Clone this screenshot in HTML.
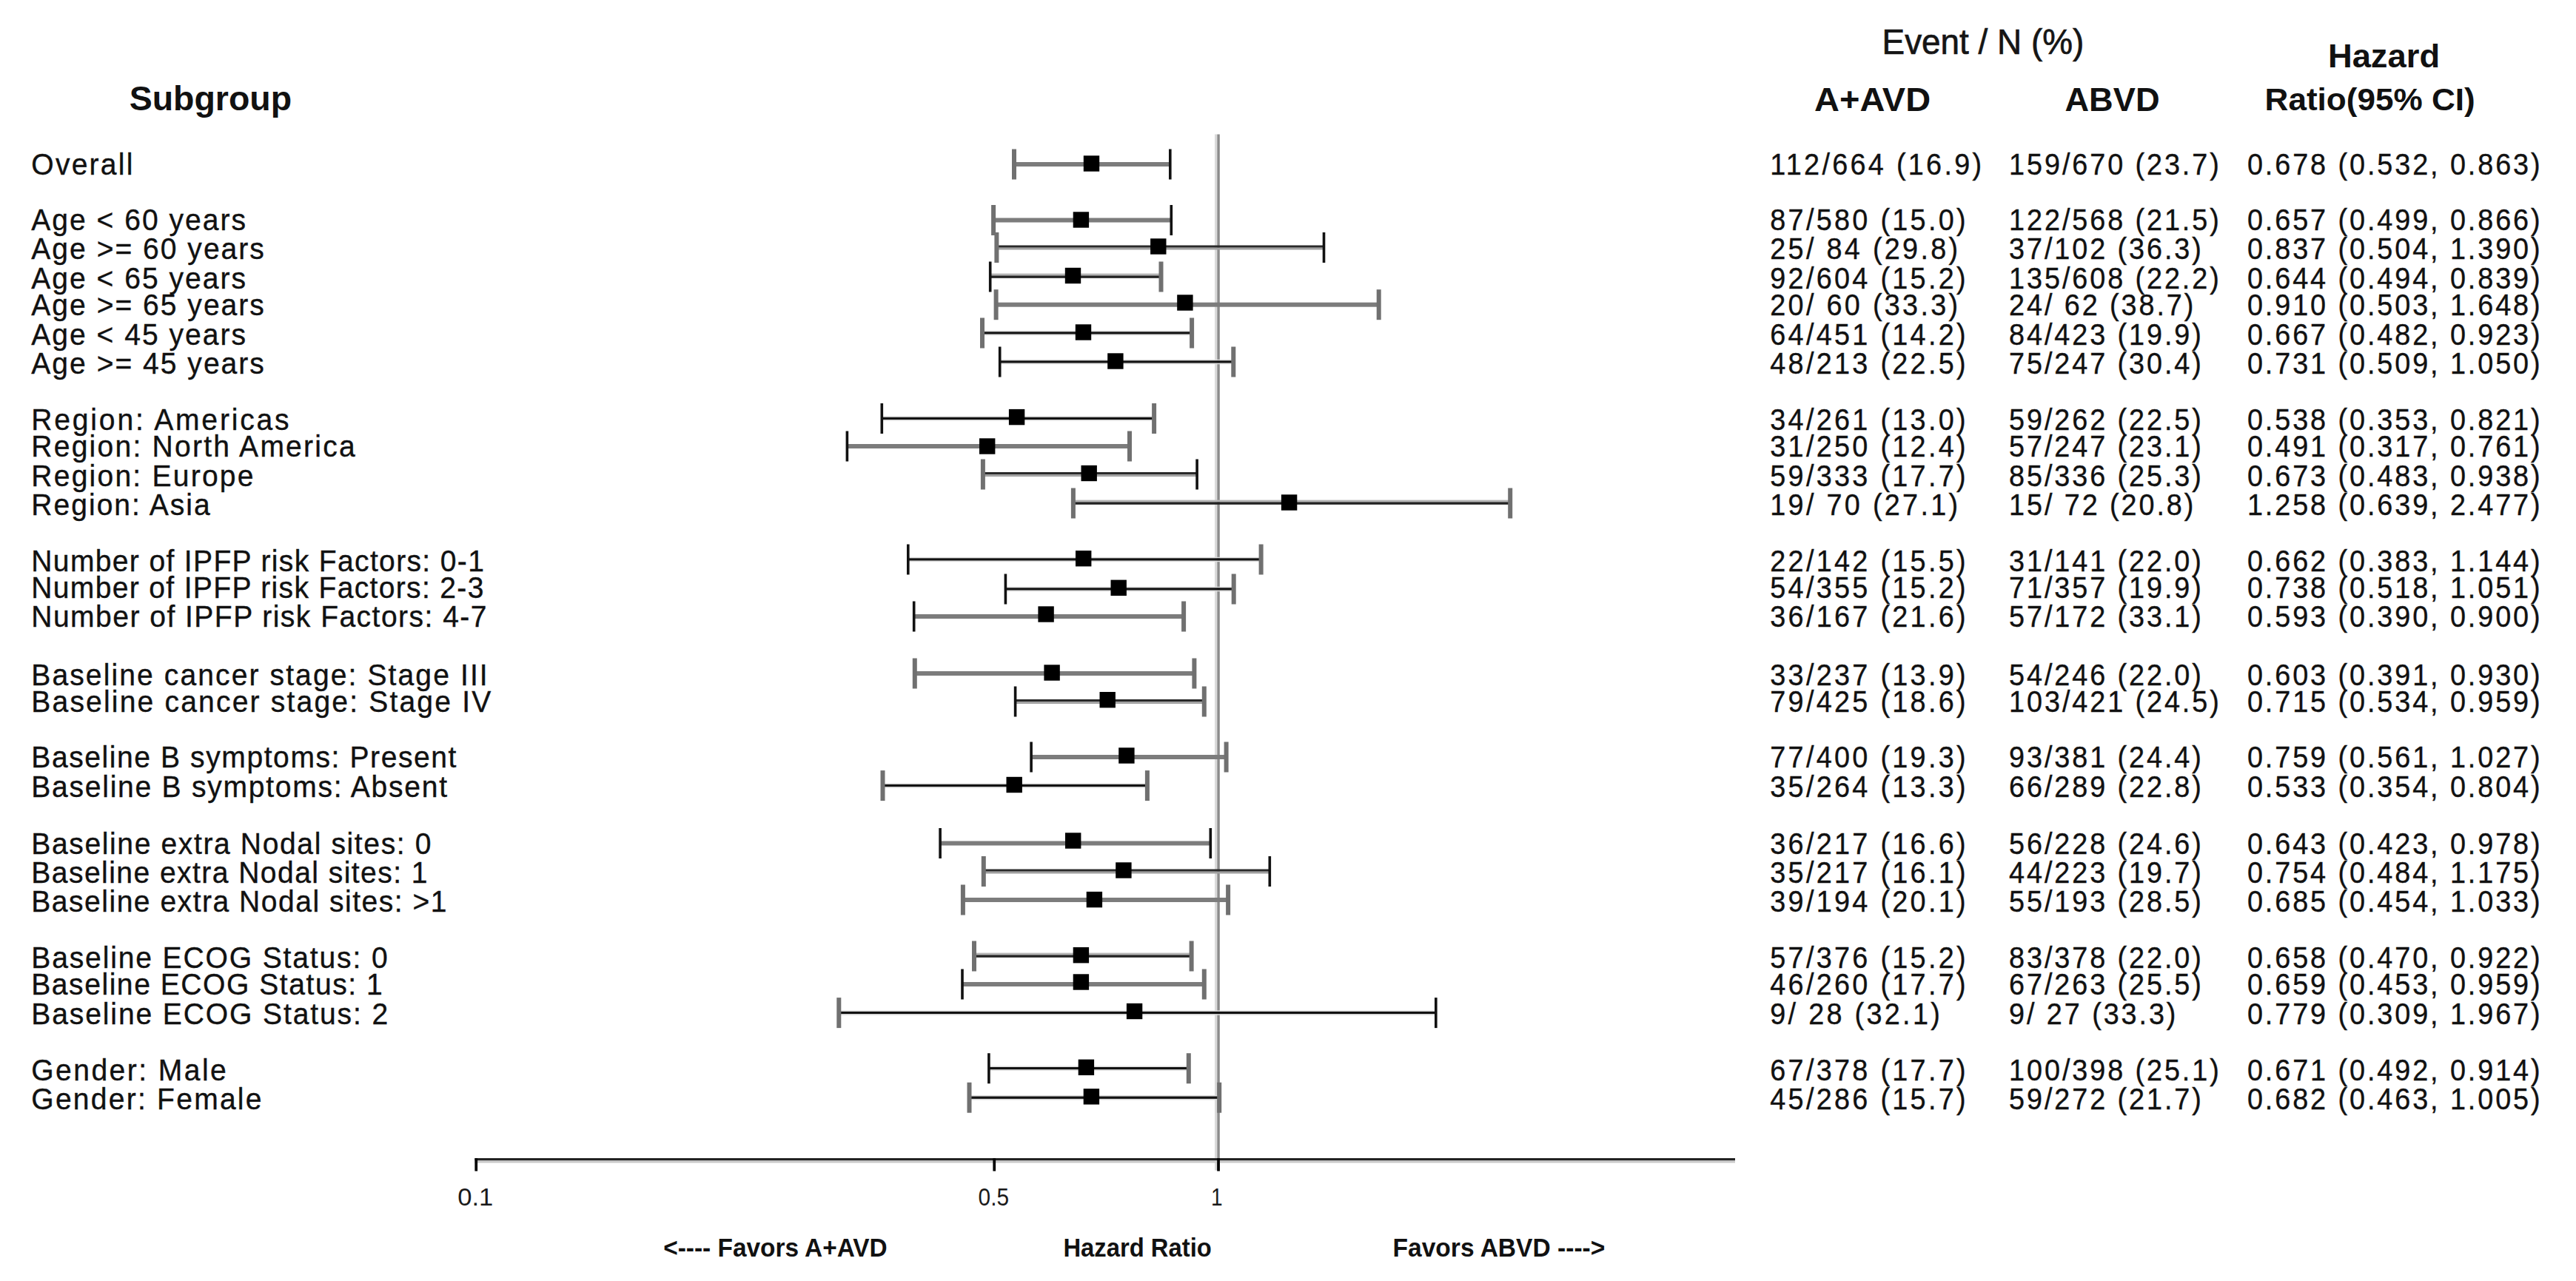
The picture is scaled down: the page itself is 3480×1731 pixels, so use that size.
<!DOCTYPE html><html><head><meta charset="utf-8"><title>Forest plot</title><style>html,body{margin:0;padding:0;background:#fff;}svg{display:block;}text{font-family:'Liberation Sans', Arial, sans-serif;white-space:pre;}</style></head><body>
<svg width="3480" height="1731" viewBox="0 0 3480 1731">
<rect width="3480" height="1731" fill="#fff"/>
<rect x="1641" y="181.5" width="3.3" height="1400" fill="#dadada"/>
<rect x="1644.3" y="181.5" width="3.5" height="1400" fill="#8c8c8c"/>
<rect x="1370.0" y="219.0" width="210.8" height="6" fill="#7c7c7c"/>
<rect x="1367.0" y="201.5" width="6" height="41" fill="#707070"/>
<rect x="1579.0" y="201.5" width="3.6" height="41" fill="#111"/>
<rect x="1463.8" y="210.3" width="21.4" height="21.4" fill="#000"/>
<rect x="1342.1" y="294.5" width="240.2" height="6" fill="#7c7c7c"/>
<rect x="1339.1" y="277.0" width="6" height="41" fill="#707070"/>
<rect x="1580.5" y="277.0" width="3.6" height="41" fill="#111"/>
<rect x="1449.7" y="286.3" width="21.4" height="21.4" fill="#000"/>
<rect x="1346.4" y="331.5" width="442.0" height="3.2" fill="#2a2a2a"/><rect x="1346.4" y="334.7" width="442.0" height="2.8" fill="#a0a0a0"/>
<rect x="1343.4" y="314.0" width="6" height="41" fill="#707070"/>
<rect x="1786.7" y="314.0" width="3.6" height="41" fill="#111"/>
<rect x="1554.1" y="322.3" width="21.4" height="21.4" fill="#000"/>
<rect x="1337.7" y="369.6" width="230.8" height="2.8" fill="#b4b4b4"/><rect x="1337.7" y="372.4" width="230.8" height="3.4" fill="#222"/>
<rect x="1335.9" y="353.5" width="3.6" height="41" fill="#111"/>
<rect x="1565.5" y="353.5" width="6" height="41" fill="#707070"/>
<rect x="1438.8" y="361.8" width="21.4" height="21.4" fill="#000"/>
<rect x="1345.6" y="408.7" width="517.1" height="6" fill="#7c7c7c"/>
<rect x="1342.6" y="391.2" width="6" height="41" fill="#707070"/>
<rect x="1859.7" y="391.2" width="6" height="41" fill="#707070"/>
<rect x="1590.2" y="398.3" width="21.4" height="21.4" fill="#000"/>
<rect x="1327.0" y="446.8" width="283.1" height="1.5" fill="#dcdcdc"/><rect x="1327.0" y="448.3" width="283.1" height="3.4" fill="#111"/><rect x="1327.0" y="451.7" width="283.1" height="1.5" fill="#dcdcdc"/>
<rect x="1324.0" y="429.5" width="6" height="41" fill="#707070"/>
<rect x="1607.1" y="429.5" width="6" height="41" fill="#707070"/>
<rect x="1452.8" y="438.3" width="21.4" height="21.4" fill="#000"/>
<rect x="1350.7" y="485.8" width="315.5" height="1.5" fill="#dcdcdc"/><rect x="1350.7" y="487.3" width="315.5" height="3.4" fill="#111"/><rect x="1350.7" y="490.7" width="315.5" height="1.5" fill="#dcdcdc"/>
<rect x="1348.9" y="468.5" width="3.6" height="41" fill="#111"/>
<rect x="1663.3" y="468.5" width="6" height="41" fill="#707070"/>
<rect x="1496.2" y="477.3" width="21.4" height="21.4" fill="#000"/>
<rect x="1191.3" y="562.3" width="367.8" height="1.5" fill="#dcdcdc"/><rect x="1191.3" y="563.8" width="367.8" height="3.4" fill="#111"/><rect x="1191.3" y="567.2" width="367.8" height="1.5" fill="#dcdcdc"/>
<rect x="1189.5" y="545.0" width="3.6" height="41" fill="#111"/>
<rect x="1556.1" y="545.0" width="6" height="41" fill="#707070"/>
<rect x="1362.9" y="552.9" width="21.4" height="21.4" fill="#000"/>
<rect x="1144.4" y="600.0" width="381.6" height="6" fill="#7c7c7c"/>
<rect x="1142.6" y="582.5" width="3.6" height="41" fill="#111"/>
<rect x="1523.0" y="582.5" width="6" height="41" fill="#707070"/>
<rect x="1323.0" y="592.3" width="21.4" height="21.4" fill="#000"/>
<rect x="1327.9" y="638.0" width="289.2" height="3.2" fill="#2a2a2a"/><rect x="1327.9" y="641.2" width="289.2" height="2.8" fill="#a0a0a0"/>
<rect x="1324.9" y="620.5" width="6" height="41" fill="#707070"/>
<rect x="1615.3" y="620.5" width="3.6" height="41" fill="#111"/>
<rect x="1460.5" y="628.8" width="21.4" height="21.4" fill="#000"/>
<rect x="1449.9" y="675.6" width="590.4" height="2.8" fill="#b4b4b4"/><rect x="1449.9" y="678.4" width="590.4" height="3.4" fill="#222"/>
<rect x="1446.9" y="659.5" width="6" height="41" fill="#707070"/>
<rect x="2037.2" y="659.5" width="6" height="41" fill="#707070"/>
<rect x="1730.9" y="668.3" width="21.4" height="21.4" fill="#000"/>
<rect x="1226.8" y="752.8" width="476.8" height="1.5" fill="#dcdcdc"/><rect x="1226.8" y="754.3" width="476.8" height="3.4" fill="#111"/><rect x="1226.8" y="757.7" width="476.8" height="1.5" fill="#dcdcdc"/>
<rect x="1225.0" y="735.5" width="3.6" height="41" fill="#111"/>
<rect x="1700.6" y="735.5" width="6" height="41" fill="#707070"/>
<rect x="1453.0" y="744.0" width="21.4" height="21.4" fill="#000"/>
<rect x="1358.4" y="792.8" width="308.3" height="1.5" fill="#dcdcdc"/><rect x="1358.4" y="794.3" width="308.3" height="3.4" fill="#111"/><rect x="1358.4" y="797.7" width="308.3" height="1.5" fill="#dcdcdc"/>
<rect x="1356.6" y="775.5" width="3.6" height="41" fill="#111"/>
<rect x="1663.7" y="775.5" width="6" height="41" fill="#707070"/>
<rect x="1500.5" y="783.6" width="21.4" height="21.4" fill="#000"/>
<rect x="1234.7" y="830.0" width="364.4" height="6" fill="#7c7c7c"/>
<rect x="1232.9" y="812.5" width="3.6" height="41" fill="#111"/>
<rect x="1596.1" y="812.5" width="6" height="41" fill="#707070"/>
<rect x="1402.4" y="819.3" width="21.4" height="21.4" fill="#000"/>
<rect x="1235.8" y="907.0" width="377.5" height="6" fill="#7c7c7c"/>
<rect x="1232.8" y="889.5" width="6" height="41" fill="#707070"/>
<rect x="1610.4" y="889.5" width="6" height="41" fill="#707070"/>
<rect x="1410.4" y="898.3" width="21.4" height="21.4" fill="#000"/>
<rect x="1371.6" y="945.0" width="255.1" height="3.2" fill="#2a2a2a"/><rect x="1371.6" y="948.2" width="255.1" height="2.8" fill="#a0a0a0"/>
<rect x="1369.8" y="927.5" width="3.6" height="41" fill="#111"/>
<rect x="1623.8" y="927.5" width="6" height="41" fill="#707070"/>
<rect x="1485.5" y="935.0" width="21.4" height="21.4" fill="#000"/>
<rect x="1393.1" y="1020.0" width="263.5" height="6" fill="#7c7c7c"/>
<rect x="1391.3" y="1002.5" width="3.6" height="41" fill="#111"/>
<rect x="1653.6" y="1002.5" width="6" height="41" fill="#707070"/>
<rect x="1511.2" y="1010.3" width="21.4" height="21.4" fill="#000"/>
<rect x="1192.5" y="1058.4" width="357.4" height="1.5" fill="#dcdcdc"/><rect x="1192.5" y="1059.9" width="357.4" height="3.4" fill="#111"/><rect x="1192.5" y="1063.3" width="357.4" height="1.5" fill="#dcdcdc"/>
<rect x="1189.5" y="1041.1" width="6" height="41" fill="#707070"/>
<rect x="1546.9" y="1041.1" width="6" height="41" fill="#707070"/>
<rect x="1359.5" y="1049.8" width="21.4" height="21.4" fill="#000"/>
<rect x="1270.1" y="1136.5" width="365.2" height="6" fill="#7c7c7c"/>
<rect x="1268.3" y="1119.0" width="3.6" height="41" fill="#111"/>
<rect x="1633.5" y="1119.0" width="3.6" height="41" fill="#111"/>
<rect x="1439.0" y="1125.3" width="21.4" height="21.4" fill="#000"/>
<rect x="1328.8" y="1174.5" width="386.5" height="3.2" fill="#2a2a2a"/><rect x="1328.8" y="1177.7" width="386.5" height="2.8" fill="#a0a0a0"/>
<rect x="1325.8" y="1157.0" width="6" height="41" fill="#707070"/>
<rect x="1713.5" y="1157.0" width="3.6" height="41" fill="#111"/>
<rect x="1507.2" y="1165.3" width="21.4" height="21.4" fill="#000"/>
<rect x="1300.9" y="1213.0" width="358.2" height="6" fill="#7c7c7c"/>
<rect x="1297.9" y="1195.5" width="6" height="41" fill="#707070"/>
<rect x="1656.1" y="1195.5" width="6" height="41" fill="#707070"/>
<rect x="1467.7" y="1204.9" width="21.4" height="21.4" fill="#000"/>
<rect x="1316.0" y="1287.6" width="293.6" height="2.8" fill="#b4b4b4"/><rect x="1316.0" y="1290.4" width="293.6" height="3.4" fill="#222"/>
<rect x="1313.0" y="1271.5" width="6" height="41" fill="#707070"/>
<rect x="1606.6" y="1271.5" width="6" height="41" fill="#707070"/>
<rect x="1449.7" y="1280.0" width="21.4" height="21.4" fill="#000"/>
<rect x="1300.0" y="1327.0" width="326.8" height="6" fill="#7c7c7c"/>
<rect x="1298.2" y="1309.5" width="3.6" height="41" fill="#111"/>
<rect x="1623.8" y="1309.5" width="6" height="41" fill="#707070"/>
<rect x="1449.7" y="1316.3" width="21.4" height="21.4" fill="#000"/>
<rect x="1133.3" y="1365.4" width="806.5" height="1.5" fill="#dcdcdc"/><rect x="1133.3" y="1366.9" width="806.5" height="3.4" fill="#111"/><rect x="1133.3" y="1370.3" width="806.5" height="1.5" fill="#dcdcdc"/>
<rect x="1130.3" y="1348.1" width="6" height="41" fill="#707070"/>
<rect x="1938.0" y="1348.1" width="3.6" height="41" fill="#111"/>
<rect x="1521.9" y="1355.8" width="21.4" height="21.4" fill="#000"/>
<rect x="1335.9" y="1440.5" width="269.9" height="1.5" fill="#dcdcdc"/><rect x="1335.9" y="1442.0" width="269.9" height="3.4" fill="#111"/><rect x="1335.9" y="1445.4" width="269.9" height="1.5" fill="#dcdcdc"/>
<rect x="1334.1" y="1423.2" width="3.6" height="41" fill="#111"/>
<rect x="1602.8" y="1423.2" width="6" height="41" fill="#707070"/>
<rect x="1456.7" y="1431.6" width="21.4" height="21.4" fill="#000"/>
<rect x="1309.5" y="1480.0" width="337.7" height="1.5" fill="#dcdcdc"/><rect x="1309.5" y="1481.5" width="337.7" height="3.4" fill="#111"/><rect x="1309.5" y="1484.9" width="337.7" height="1.5" fill="#dcdcdc"/>
<rect x="1306.5" y="1462.7" width="6" height="41" fill="#707070"/>
<rect x="1644.2" y="1462.7" width="6" height="41" fill="#707070"/>
<rect x="1463.7" y="1471.1" width="21.4" height="21.4" fill="#000"/>
<rect x="641.5" y="1565" width="1702.5" height="3" fill="#222"/>
<rect x="641.5" y="1568" width="1702.5" height="3.4" fill="#c8c8c8"/>
<rect x="641.4" y="1565" width="3.7" height="17.5" fill="#000"/>
<rect x="1341.4" y="1565" width="3.7" height="17.5" fill="#000"/>
<rect x="1644.2" y="1565" width="3.7" height="17.5" fill="#000"/>
<text id="h_sub" x="174.65" y="149.00" font-size="45.5" fill="#111" textLength="219.41" lengthAdjust="spacingAndGlyphs" font-weight="bold">Subgroup</text>
<text id="h_evt" x="2542.53" y="72.70" font-size="48.0" fill="#151515" textLength="272.87" lengthAdjust="spacingAndGlyphs" stroke="#151515" stroke-width="0.70">Event / N (%)</text>
<text id="h_haz" x="3144.88" y="91.00" font-size="43.6" fill="#111" textLength="151.24" lengthAdjust="spacingAndGlyphs" font-weight="bold">Hazard</text>
<text id="h_rat" x="3059.55" y="149.30" font-size="43.4" fill="#111" textLength="284.26" lengthAdjust="spacingAndGlyphs" font-weight="bold">Ratio(95% CI)</text>
<text id="h_a" x="2451.08" y="149.50" font-size="44.5" fill="#111" textLength="157.00" lengthAdjust="spacingAndGlyphs" font-weight="bold">A+AVD</text>
<text id="h_b" x="2789.42" y="149.50" font-size="43.7" fill="#111" textLength="128.15" lengthAdjust="spacingAndGlyphs" font-weight="bold">ABVD</text>
<text id="l0" transform="translate(42.30,236.20) scale(0.930,0.970)" font-size="42.0" fill="#111" textLength="147.41" lengthAdjust="spacing" stroke="#111" stroke-width="0.40">Overall</text>
<text id="a0" transform="translate(2391.30,236.20) scale(0.900,0.980)" font-size="42.0" fill="#111" letter-spacing="3.66" stroke="#111" stroke-width="0.40">112/664 (16.9)</text>
<text id="b0" transform="translate(2714.10,236.20) scale(0.900,0.980)" font-size="42.0" fill="#111" letter-spacing="3.24" stroke="#111" stroke-width="0.40">159/670 (23.7)</text>
<text id="c0" transform="translate(3035.90,236.20) scale(0.900,0.980)" font-size="42.0" fill="#111" letter-spacing="3.24" stroke="#111" stroke-width="0.40">0.678 (0.532, 0.863)</text>
<text id="l1" transform="translate(42.30,311.20) scale(0.930,0.970)" font-size="42.0" fill="#111" textLength="311.46" lengthAdjust="spacing" stroke="#111" stroke-width="0.40">Age &lt; 60 years</text>
<text id="a1" transform="translate(2391.30,311.20) scale(0.900,0.980)" font-size="42.0" fill="#111" letter-spacing="3.66" stroke="#111" stroke-width="0.40">87/580 (15.0)</text>
<text id="b1" transform="translate(2714.10,311.20) scale(0.900,0.980)" font-size="42.0" fill="#111" letter-spacing="3.24" stroke="#111" stroke-width="0.40">122/568 (21.5)</text>
<text id="c1" transform="translate(3035.90,311.20) scale(0.900,0.980)" font-size="42.0" fill="#111" letter-spacing="3.24" stroke="#111" stroke-width="0.40">0.657 (0.499, 0.866)</text>
<text id="l2" transform="translate(42.30,350.00) scale(0.930,0.970)" font-size="42.0" fill="#111" textLength="338.26" lengthAdjust="spacing" stroke="#111" stroke-width="0.40">Age &gt;= 60 years</text>
<text id="a2" transform="translate(2391.30,350.00) scale(0.900,0.980)" font-size="42.0" fill="#111" letter-spacing="3.66" stroke="#111" stroke-width="0.40">25/ 84 (29.8)</text>
<text id="b2" transform="translate(2714.10,350.00) scale(0.900,0.980)" font-size="42.0" fill="#111" letter-spacing="3.24" stroke="#111" stroke-width="0.40">37/102 (36.3)</text>
<text id="c2" transform="translate(3035.90,350.00) scale(0.900,0.980)" font-size="42.0" fill="#111" letter-spacing="3.24" stroke="#111" stroke-width="0.40">0.837 (0.504, 1.390)</text>
<text id="l3" transform="translate(42.30,390.00) scale(0.930,0.970)" font-size="42.0" fill="#111" textLength="311.46" lengthAdjust="spacing" stroke="#111" stroke-width="0.40">Age &lt; 65 years</text>
<text id="a3" transform="translate(2391.30,390.00) scale(0.900,0.980)" font-size="42.0" fill="#111" letter-spacing="3.66" stroke="#111" stroke-width="0.40">92/604 (15.2)</text>
<text id="b3" transform="translate(2714.10,390.00) scale(0.900,0.980)" font-size="42.0" fill="#111" letter-spacing="3.24" stroke="#111" stroke-width="0.40">135/608 (22.2)</text>
<text id="c3" transform="translate(3035.90,390.00) scale(0.900,0.980)" font-size="42.0" fill="#111" letter-spacing="3.24" stroke="#111" stroke-width="0.40">0.644 (0.494, 0.839)</text>
<text id="l4" transform="translate(42.30,426.00) scale(0.930,0.970)" font-size="42.0" fill="#111" textLength="338.26" lengthAdjust="spacing" stroke="#111" stroke-width="0.40">Age &gt;= 65 years</text>
<text id="a4" transform="translate(2391.30,426.00) scale(0.900,0.980)" font-size="42.0" fill="#111" letter-spacing="3.66" stroke="#111" stroke-width="0.40">20/ 60 (33.3)</text>
<text id="b4" transform="translate(2714.10,426.00) scale(0.900,0.980)" font-size="42.0" fill="#111" letter-spacing="3.24" stroke="#111" stroke-width="0.40">24/ 62 (38.7)</text>
<text id="c4" transform="translate(3035.90,426.00) scale(0.900,0.980)" font-size="42.0" fill="#111" letter-spacing="3.24" stroke="#111" stroke-width="0.40">0.910 (0.503, 1.648)</text>
<text id="l5" transform="translate(42.30,466.00) scale(0.930,0.970)" font-size="42.0" fill="#111" textLength="311.46" lengthAdjust="spacing" stroke="#111" stroke-width="0.40">Age &lt; 45 years</text>
<text id="a5" transform="translate(2391.30,466.00) scale(0.900,0.980)" font-size="42.0" fill="#111" letter-spacing="3.66" stroke="#111" stroke-width="0.40">64/451 (14.2)</text>
<text id="b5" transform="translate(2714.10,466.00) scale(0.900,0.980)" font-size="42.0" fill="#111" letter-spacing="3.24" stroke="#111" stroke-width="0.40">84/423 (19.9)</text>
<text id="c5" transform="translate(3035.90,466.00) scale(0.900,0.980)" font-size="42.0" fill="#111" letter-spacing="3.24" stroke="#111" stroke-width="0.40">0.667 (0.482, 0.923)</text>
<text id="l6" transform="translate(42.30,505.30) scale(0.930,0.970)" font-size="42.0" fill="#111" textLength="338.26" lengthAdjust="spacing" stroke="#111" stroke-width="0.40">Age &gt;= 45 years</text>
<text id="a6" transform="translate(2391.30,505.30) scale(0.900,0.980)" font-size="42.0" fill="#111" letter-spacing="3.66" stroke="#111" stroke-width="0.40">48/213 (22.5)</text>
<text id="b6" transform="translate(2714.10,505.30) scale(0.900,0.980)" font-size="42.0" fill="#111" letter-spacing="3.24" stroke="#111" stroke-width="0.40">75/247 (30.4)</text>
<text id="c6" transform="translate(3035.90,505.30) scale(0.900,0.980)" font-size="42.0" fill="#111" letter-spacing="3.24" stroke="#111" stroke-width="0.40">0.731 (0.509, 1.050)</text>
<text id="l7" transform="translate(42.30,581.20) scale(0.930,0.970)" font-size="42.0" fill="#111" textLength="374.54" lengthAdjust="spacing" stroke="#111" stroke-width="0.40">Region: Americas</text>
<text id="a7" transform="translate(2391.30,581.20) scale(0.900,0.980)" font-size="42.0" fill="#111" letter-spacing="3.66" stroke="#111" stroke-width="0.40">34/261 (13.0)</text>
<text id="b7" transform="translate(2714.10,581.20) scale(0.900,0.980)" font-size="42.0" fill="#111" letter-spacing="3.24" stroke="#111" stroke-width="0.40">59/262 (22.5)</text>
<text id="c7" transform="translate(3035.90,581.20) scale(0.900,0.980)" font-size="42.0" fill="#111" letter-spacing="3.24" stroke="#111" stroke-width="0.40">0.538 (0.353, 0.821)</text>
<text id="l8" transform="translate(42.30,617.40) scale(0.930,0.970)" font-size="42.0" fill="#111" textLength="470.32" lengthAdjust="spacing" stroke="#111" stroke-width="0.40">Region: North America</text>
<text id="a8" transform="translate(2391.30,617.40) scale(0.900,0.980)" font-size="42.0" fill="#111" letter-spacing="3.66" stroke="#111" stroke-width="0.40">31/250 (12.4)</text>
<text id="b8" transform="translate(2714.10,617.40) scale(0.900,0.980)" font-size="42.0" fill="#111" letter-spacing="3.24" stroke="#111" stroke-width="0.40">57/247 (23.1)</text>
<text id="c8" transform="translate(3035.90,617.40) scale(0.900,0.980)" font-size="42.0" fill="#111" letter-spacing="3.24" stroke="#111" stroke-width="0.40">0.491 (0.317, 0.761)</text>
<text id="l9" transform="translate(42.30,656.90) scale(0.930,0.970)" font-size="42.0" fill="#111" textLength="322.78" lengthAdjust="spacing" stroke="#111" stroke-width="0.40">Region: Europe</text>
<text id="a9" transform="translate(2391.30,656.90) scale(0.900,0.980)" font-size="42.0" fill="#111" letter-spacing="3.66" stroke="#111" stroke-width="0.40">59/333 (17.7)</text>
<text id="b9" transform="translate(2714.10,656.90) scale(0.900,0.980)" font-size="42.0" fill="#111" letter-spacing="3.24" stroke="#111" stroke-width="0.40">85/336 (25.3)</text>
<text id="c9" transform="translate(3035.90,656.90) scale(0.900,0.980)" font-size="42.0" fill="#111" letter-spacing="3.24" stroke="#111" stroke-width="0.40">0.673 (0.483, 0.938)</text>
<text id="l10" transform="translate(42.30,696.10) scale(0.930,0.970)" font-size="42.0" fill="#111" textLength="259.53" lengthAdjust="spacing" stroke="#111" stroke-width="0.40">Region: Asia</text>
<text id="a10" transform="translate(2391.30,696.10) scale(0.900,0.980)" font-size="42.0" fill="#111" letter-spacing="3.66" stroke="#111" stroke-width="0.40">19/ 70 (27.1)</text>
<text id="b10" transform="translate(2714.10,696.10) scale(0.900,0.980)" font-size="42.0" fill="#111" letter-spacing="3.24" stroke="#111" stroke-width="0.40">15/ 72 (20.8)</text>
<text id="c10" transform="translate(3035.90,696.10) scale(0.900,0.980)" font-size="42.0" fill="#111" letter-spacing="3.24" stroke="#111" stroke-width="0.40">1.258 (0.639, 2.477)</text>
<text id="l11" transform="translate(42.30,771.80) scale(0.930,0.970)" font-size="42.0" fill="#111" textLength="657.63" lengthAdjust="spacing" stroke="#111" stroke-width="0.40">Number of IPFP risk Factors: 0-1</text>
<text id="a11" transform="translate(2391.30,771.80) scale(0.900,0.980)" font-size="42.0" fill="#111" letter-spacing="3.66" stroke="#111" stroke-width="0.40">22/142 (15.5)</text>
<text id="b11" transform="translate(2714.10,771.80) scale(0.900,0.980)" font-size="42.0" fill="#111" letter-spacing="3.24" stroke="#111" stroke-width="0.40">31/141 (22.0)</text>
<text id="c11" transform="translate(3035.90,771.80) scale(0.900,0.980)" font-size="42.0" fill="#111" letter-spacing="3.24" stroke="#111" stroke-width="0.40">0.662 (0.383, 1.144)</text>
<text id="l12" transform="translate(42.30,807.80) scale(0.930,0.970)" font-size="42.0" fill="#111" textLength="657.08" lengthAdjust="spacing" stroke="#111" stroke-width="0.40">Number of IPFP risk Factors: 2-3</text>
<text id="a12" transform="translate(2391.30,807.80) scale(0.900,0.980)" font-size="42.0" fill="#111" letter-spacing="3.66" stroke="#111" stroke-width="0.40">54/355 (15.2)</text>
<text id="b12" transform="translate(2714.10,807.80) scale(0.900,0.980)" font-size="42.0" fill="#111" letter-spacing="3.24" stroke="#111" stroke-width="0.40">71/357 (19.9)</text>
<text id="c12" transform="translate(3035.90,807.80) scale(0.900,0.980)" font-size="42.0" fill="#111" letter-spacing="3.24" stroke="#111" stroke-width="0.40">0.738 (0.518, 1.051)</text>
<text id="l13" transform="translate(42.30,846.80) scale(0.930,0.970)" font-size="42.0" fill="#111" textLength="661.52" lengthAdjust="spacing" stroke="#111" stroke-width="0.40">Number of IPFP risk Factors: 4-7</text>
<text id="a13" transform="translate(2391.30,846.80) scale(0.900,0.980)" font-size="42.0" fill="#111" letter-spacing="3.66" stroke="#111" stroke-width="0.40">36/167 (21.6)</text>
<text id="b13" transform="translate(2714.10,846.80) scale(0.900,0.980)" font-size="42.0" fill="#111" letter-spacing="3.24" stroke="#111" stroke-width="0.40">57/172 (33.1)</text>
<text id="c13" transform="translate(3035.90,846.80) scale(0.900,0.980)" font-size="42.0" fill="#111" letter-spacing="3.24" stroke="#111" stroke-width="0.40">0.593 (0.390, 0.900)</text>
<text id="l14" transform="translate(42.30,926.20) scale(0.930,0.970)" font-size="42.0" fill="#111" textLength="662.80" lengthAdjust="spacing" stroke="#111" stroke-width="0.40">Baseline cancer stage: Stage III</text>
<text id="a14" transform="translate(2391.30,926.20) scale(0.900,0.980)" font-size="42.0" fill="#111" letter-spacing="3.66" stroke="#111" stroke-width="0.40">33/237 (13.9)</text>
<text id="b14" transform="translate(2714.10,926.20) scale(0.900,0.980)" font-size="42.0" fill="#111" letter-spacing="3.24" stroke="#111" stroke-width="0.40">54/246 (22.0)</text>
<text id="c14" transform="translate(3035.90,926.20) scale(0.900,0.980)" font-size="42.0" fill="#111" letter-spacing="3.24" stroke="#111" stroke-width="0.40">0.603 (0.391, 0.930)</text>
<text id="l15" transform="translate(42.30,962.40) scale(0.930,0.970)" font-size="42.0" fill="#111" textLength="667.66" lengthAdjust="spacing" stroke="#111" stroke-width="0.40">Baseline cancer stage: Stage IV</text>
<text id="a15" transform="translate(2391.30,962.40) scale(0.900,0.980)" font-size="42.0" fill="#111" letter-spacing="3.66" stroke="#111" stroke-width="0.40">79/425 (18.6)</text>
<text id="b15" transform="translate(2714.10,962.40) scale(0.900,0.980)" font-size="42.0" fill="#111" letter-spacing="3.24" stroke="#111" stroke-width="0.40">103/421 (24.5)</text>
<text id="c15" transform="translate(3035.90,962.40) scale(0.900,0.980)" font-size="42.0" fill="#111" letter-spacing="3.24" stroke="#111" stroke-width="0.40">0.715 (0.534, 0.959)</text>
<text id="l16" transform="translate(42.30,1037.40) scale(0.930,0.970)" font-size="42.0" fill="#111" textLength="617.37" lengthAdjust="spacing" stroke="#111" stroke-width="0.40">Baseline B symptoms: Present</text>
<text id="a16" transform="translate(2391.30,1037.40) scale(0.900,0.980)" font-size="42.0" fill="#111" letter-spacing="3.66" stroke="#111" stroke-width="0.40">77/400 (19.3)</text>
<text id="b16" transform="translate(2714.10,1037.40) scale(0.900,0.980)" font-size="42.0" fill="#111" letter-spacing="3.24" stroke="#111" stroke-width="0.40">93/381 (24.4)</text>
<text id="c16" transform="translate(3035.90,1037.40) scale(0.900,0.980)" font-size="42.0" fill="#111" letter-spacing="3.24" stroke="#111" stroke-width="0.40">0.759 (0.561, 1.027)</text>
<text id="l17" transform="translate(42.30,1077.30) scale(0.930,0.970)" font-size="42.0" fill="#111" textLength="604.04" lengthAdjust="spacing" stroke="#111" stroke-width="0.40">Baseline B symptoms: Absent</text>
<text id="a17" transform="translate(2391.30,1077.30) scale(0.900,0.980)" font-size="42.0" fill="#111" letter-spacing="3.66" stroke="#111" stroke-width="0.40">35/264 (13.3)</text>
<text id="b17" transform="translate(2714.10,1077.30) scale(0.900,0.980)" font-size="42.0" fill="#111" letter-spacing="3.24" stroke="#111" stroke-width="0.40">66/289 (22.8)</text>
<text id="c17" transform="translate(3035.90,1077.30) scale(0.900,0.980)" font-size="42.0" fill="#111" letter-spacing="3.24" stroke="#111" stroke-width="0.40">0.533 (0.354, 0.804)</text>
<text id="l18" transform="translate(42.30,1153.50) scale(0.930,0.970)" font-size="42.0" fill="#111" textLength="580.83" lengthAdjust="spacing" stroke="#111" stroke-width="0.40">Baseline extra Nodal sites: 0</text>
<text id="a18" transform="translate(2391.30,1153.50) scale(0.900,0.980)" font-size="42.0" fill="#111" letter-spacing="3.66" stroke="#111" stroke-width="0.40">36/217 (16.6)</text>
<text id="b18" transform="translate(2714.10,1153.50) scale(0.900,0.980)" font-size="42.0" fill="#111" letter-spacing="3.24" stroke="#111" stroke-width="0.40">56/228 (24.6)</text>
<text id="c18" transform="translate(3035.90,1153.50) scale(0.900,0.980)" font-size="42.0" fill="#111" letter-spacing="3.24" stroke="#111" stroke-width="0.40">0.643 (0.423, 0.978)</text>
<text id="l19" transform="translate(42.30,1193.20) scale(0.930,0.970)" font-size="42.0" fill="#111" textLength="575.49" lengthAdjust="spacing" stroke="#111" stroke-width="0.40">Baseline extra Nodal sites: 1</text>
<text id="a19" transform="translate(2391.30,1193.20) scale(0.900,0.980)" font-size="42.0" fill="#111" letter-spacing="3.66" stroke="#111" stroke-width="0.40">35/217 (16.1)</text>
<text id="b19" transform="translate(2714.10,1193.20) scale(0.900,0.980)" font-size="42.0" fill="#111" letter-spacing="3.24" stroke="#111" stroke-width="0.40">44/223 (19.7)</text>
<text id="c19" transform="translate(3035.90,1193.20) scale(0.900,0.980)" font-size="42.0" fill="#111" letter-spacing="3.24" stroke="#111" stroke-width="0.40">0.754 (0.484, 1.175)</text>
<text id="l20" transform="translate(42.30,1232.40) scale(0.930,0.970)" font-size="42.0" fill="#111" textLength="603.38" lengthAdjust="spacing" stroke="#111" stroke-width="0.40">Baseline extra Nodal sites: &gt;1</text>
<text id="a20" transform="translate(2391.30,1232.40) scale(0.900,0.980)" font-size="42.0" fill="#111" letter-spacing="3.66" stroke="#111" stroke-width="0.40">39/194 (20.1)</text>
<text id="b20" transform="translate(2714.10,1232.40) scale(0.900,0.980)" font-size="42.0" fill="#111" letter-spacing="3.24" stroke="#111" stroke-width="0.40">55/193 (28.5)</text>
<text id="c20" transform="translate(3035.90,1232.40) scale(0.900,0.980)" font-size="42.0" fill="#111" letter-spacing="3.24" stroke="#111" stroke-width="0.40">0.685 (0.454, 1.033)</text>
<text id="l21" transform="translate(42.30,1307.90) scale(0.930,0.970)" font-size="42.0" fill="#111" textLength="517.54" lengthAdjust="spacing" stroke="#111" stroke-width="0.40">Baseline ECOG Status: 0</text>
<text id="a21" transform="translate(2391.30,1307.90) scale(0.900,0.980)" font-size="42.0" fill="#111" letter-spacing="3.66" stroke="#111" stroke-width="0.40">57/376 (15.2)</text>
<text id="b21" transform="translate(2714.10,1307.90) scale(0.900,0.980)" font-size="42.0" fill="#111" letter-spacing="3.24" stroke="#111" stroke-width="0.40">83/378 (22.0)</text>
<text id="c21" transform="translate(3035.90,1307.90) scale(0.900,0.980)" font-size="42.0" fill="#111" letter-spacing="3.24" stroke="#111" stroke-width="0.40">0.658 (0.470, 0.922)</text>
<text id="l22" transform="translate(42.30,1344.40) scale(0.930,0.970)" font-size="42.0" fill="#111" textLength="510.12" lengthAdjust="spacing" stroke="#111" stroke-width="0.40">Baseline ECOG Status: 1</text>
<text id="a22" transform="translate(2391.30,1344.40) scale(0.900,0.980)" font-size="42.0" fill="#111" letter-spacing="3.66" stroke="#111" stroke-width="0.40">46/260 (17.7)</text>
<text id="b22" transform="translate(2714.10,1344.40) scale(0.900,0.980)" font-size="42.0" fill="#111" letter-spacing="3.24" stroke="#111" stroke-width="0.40">67/263 (25.5)</text>
<text id="c22" transform="translate(3035.90,1344.40) scale(0.900,0.980)" font-size="42.0" fill="#111" letter-spacing="3.24" stroke="#111" stroke-width="0.40">0.659 (0.453, 0.959)</text>
<text id="l23" transform="translate(42.30,1384.30) scale(0.930,0.970)" font-size="42.0" fill="#111" textLength="518.10" lengthAdjust="spacing" stroke="#111" stroke-width="0.40">Baseline ECOG Status: 2</text>
<text id="a23" transform="translate(2391.30,1384.30) scale(0.900,0.980)" font-size="42.0" fill="#111" letter-spacing="3.66" stroke="#111" stroke-width="0.40">9/ 28 (32.1)</text>
<text id="b23" transform="translate(2714.10,1384.30) scale(0.900,0.980)" font-size="42.0" fill="#111" letter-spacing="3.24" stroke="#111" stroke-width="0.40">9/ 27 (33.3)</text>
<text id="c23" transform="translate(3035.90,1384.30) scale(0.900,0.980)" font-size="42.0" fill="#111" letter-spacing="3.24" stroke="#111" stroke-width="0.40">0.779 (0.309, 1.967)</text>
<text id="l24" transform="translate(42.30,1460.00) scale(0.930,0.970)" font-size="42.0" fill="#111" textLength="283.33" lengthAdjust="spacing" stroke="#111" stroke-width="0.40">Gender: Male</text>
<text id="a24" transform="translate(2391.30,1460.00) scale(0.900,0.980)" font-size="42.0" fill="#111" letter-spacing="3.66" stroke="#111" stroke-width="0.40">67/378 (17.7)</text>
<text id="b24" transform="translate(2714.10,1460.00) scale(0.900,0.980)" font-size="42.0" fill="#111" letter-spacing="3.24" stroke="#111" stroke-width="0.40">100/398 (25.1)</text>
<text id="c24" transform="translate(3035.90,1460.00) scale(0.900,0.980)" font-size="42.0" fill="#111" letter-spacing="3.24" stroke="#111" stroke-width="0.40">0.671 (0.492, 0.914)</text>
<text id="l25" transform="translate(42.30,1499.30) scale(0.930,0.970)" font-size="42.0" fill="#111" textLength="334.60" lengthAdjust="spacing" stroke="#111" stroke-width="0.40">Gender: Female</text>
<text id="a25" transform="translate(2391.30,1499.30) scale(0.900,0.980)" font-size="42.0" fill="#111" letter-spacing="3.66" stroke="#111" stroke-width="0.40">45/286 (15.7)</text>
<text id="b25" transform="translate(2714.10,1499.30) scale(0.900,0.980)" font-size="42.0" fill="#111" letter-spacing="3.24" stroke="#111" stroke-width="0.40">59/272 (21.7)</text>
<text id="c25" transform="translate(3035.90,1499.30) scale(0.900,0.980)" font-size="42.0" fill="#111" letter-spacing="3.24" stroke="#111" stroke-width="0.40">0.682 (0.463, 1.005)</text>
<text id="t01" transform="translate(618.24,1628.80) scale(0.850,1.000)" font-size="33.0" fill="#1a1a1a" textLength="56.65" lengthAdjust="spacingAndGlyphs">0.1</text>
<text id="t05" transform="translate(1321.62,1628.80) scale(0.850,1.000)" font-size="33.0" fill="#1a1a1a" textLength="48.74" lengthAdjust="spacingAndGlyphs">0.5</text>
<text id="t1" transform="translate(1636.00,1628.80) scale(0.850,1.000)" font-size="33.0" fill="#1a1a1a">1</text>
<text id="f_l" x="896.26" y="1697.50" font-size="35.5" fill="#111" textLength="302.39" lengthAdjust="spacingAndGlyphs" font-weight="bold">&lt;---- Favors A+AVD</text>
<text id="f_h" x="1436.42" y="1697.50" font-size="35.0" fill="#111" textLength="200.46" lengthAdjust="spacingAndGlyphs" font-weight="bold">Hazard Ratio</text>
<text id="f_r" x="1881.51" y="1697.50" font-size="35.5" fill="#111" textLength="286.85" lengthAdjust="spacingAndGlyphs" font-weight="bold">Favors ABVD ----&gt;</text>
</svg></body></html>
